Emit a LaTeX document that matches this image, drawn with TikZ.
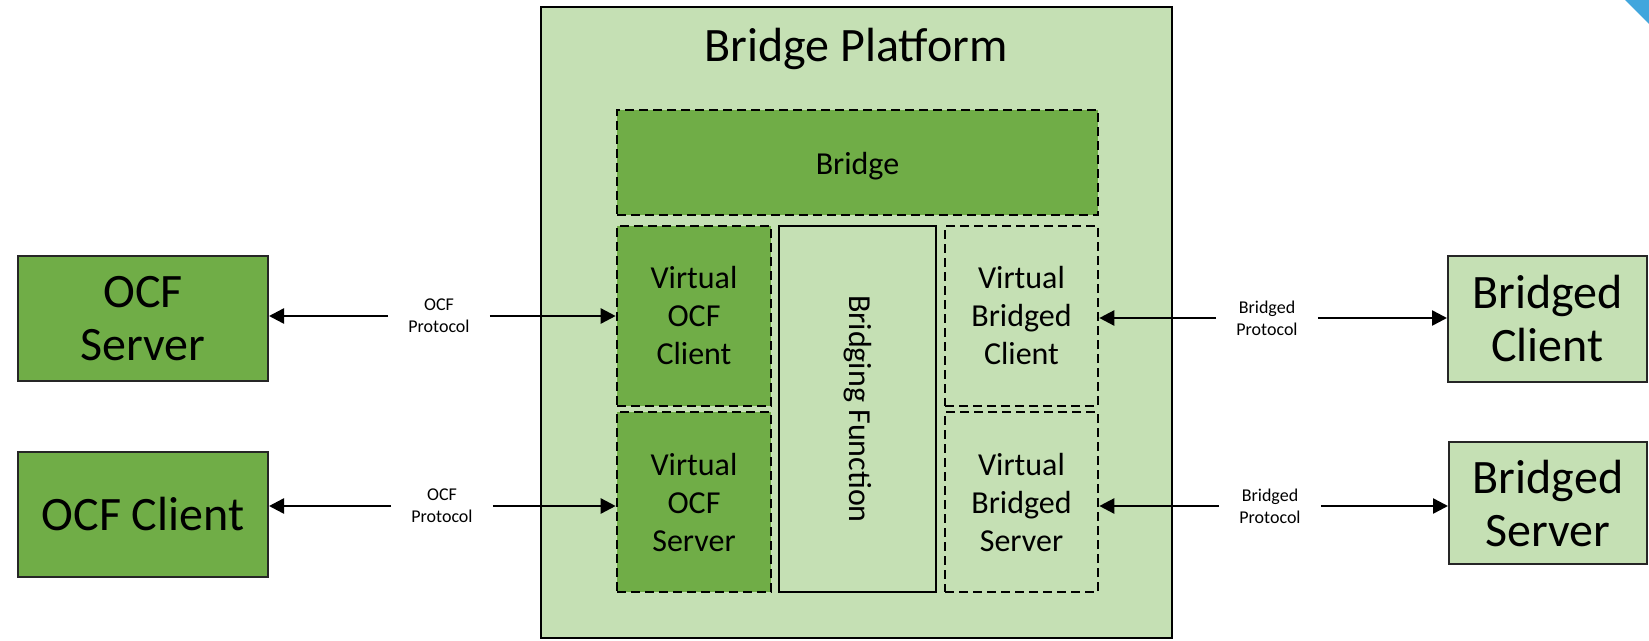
\documentclass[tikz,border=0pt]{standalone}
\usepackage{fontspec}
\setmainfont{Carlito}
\usetikzlibrary{arrows.meta}
\definecolor{dgreen}{HTML}{70AD47}
\definecolor{lgreen}{HTML}{C5E0B4}
\definecolor{tricol}{HTML}{41A6DD}
\begin{document}
\begin{tikzpicture}[x=1pt,y=-1pt,
  bigtxt/.style={font=\fontsize{48}{53}\selectfont},
  midtxt/.style={font=\fontsize{32}{38}\selectfont},
  smalltxt/.style={font=\fontsize{18}{22}\selectfont},
  extbox/.style={draw=black!85, line width=2pt, inner sep=0pt, align=center, bigtxt},
  dbox/.style={draw=black, line width=2.6pt, dash pattern=on 9pt off 5pt, inner sep=0pt, align=center, midtxt},
  sbox/.style={draw=black, line width=2.6pt, inner sep=0pt, align=center, midtxt},
  lab/.style={smalltxt, align=center, inner xsep=20pt, inner ysep=0pt},
  arr/.style={line width=2.5pt, -{Triangle[length=15pt,width=15pt]}}
]
\useasboundingbox (0,0) rectangle (1649,640);
\fill[tricol] (1625,0) -- (1649,0) -- (1649,24) -- cycle;

% platform
\node[draw=black, line width=2.8pt, fill=lgreen, minimum width=631pt, minimum height=631pt, inner sep=0pt] (plat) at (856.5,322.5) {};
\node[bigtxt, anchor=base, inner sep=0pt] (ptitle) at (856,61) {Bridge Platform};

% inner boxes
\node[dbox, fill=dgreen, minimum width=481pt, minimum height=105pt] (bridge) at (857.5,162.5) {};
\node[midtxt, inner sep=0pt] (bridgetxt) at (857.5,166.5) {Bridge};
\node[dbox, fill=dgreen, minimum width=154pt, minimum height=180pt] (voc) at (694,316) {Virtual\\OCF\\Client};
\node[dbox, fill=dgreen, minimum width=154pt, minimum height=180pt] (vos) at (694,502) {Virtual\\OCF\\Server};
\node[sbox, fill=lgreen, minimum width=157pt, minimum height=366pt] (bf) at (857.5,409) {};
\node[midtxt, rotate=-90, inner sep=0pt] (bft) at (bf.center) {Bridging Function};
\node[dbox, fill=lgreen, minimum width=153pt, minimum height=180pt] (vbc) at (1021.5,316) {Virtual\\Bridged\\Client};
\node[dbox, fill=lgreen, minimum width=153pt, minimum height=180pt] (vbs) at (1021.5,502) {Virtual\\Bridged\\Server};

% external boxes
\node[extbox, fill=dgreen, minimum width=250pt, minimum height=125pt] (ocfs) at (143,318.5) {OCF\\Server};
\node[extbox, fill=dgreen, minimum width=250pt, minimum height=125pt] (ocfc) at (143,514.5) {OCF Client};
\node[extbox, fill=lgreen, minimum width=199pt, minimum height=126pt] (bc) at (1547.5,319) {Bridged\\Client};
\node[extbox, fill=lgreen, minimum width=198pt, minimum height=122pt] (bs) at (1548,503) {Bridged\\Server};

% labels
\node[lab] (l1) at (439,316) {OCF\\Protocol};
\node[lab] (l2) at (442,506) {OCF\\Protocol};
\node[lab] (l3) at (1267,318) {Bridged\\Protocol};
\node[lab] (l4) at (1270,506) {Bridged\\Protocol};

% arrows
\draw[arr] (l1.west) -- (l1.west -| ocfs.east);
\draw[arr] (l1.east) -- (l1.east -| voc.west);
\draw[arr] (l2.west) -- (l2.west -| ocfc.east);
\draw[arr] (l2.east) -- (l2.east -| vos.west);
\draw[arr] (l3.west) -- (l3.west -| vbc.east);
\draw[arr] (l3.east) -- (l3.east -| bc.west);
\draw[arr] (l4.west) -- (l4.west -| vbs.east);
\draw[arr] (l4.east) -- (l4.east -| bs.west);
\end{tikzpicture}
\end{document}
